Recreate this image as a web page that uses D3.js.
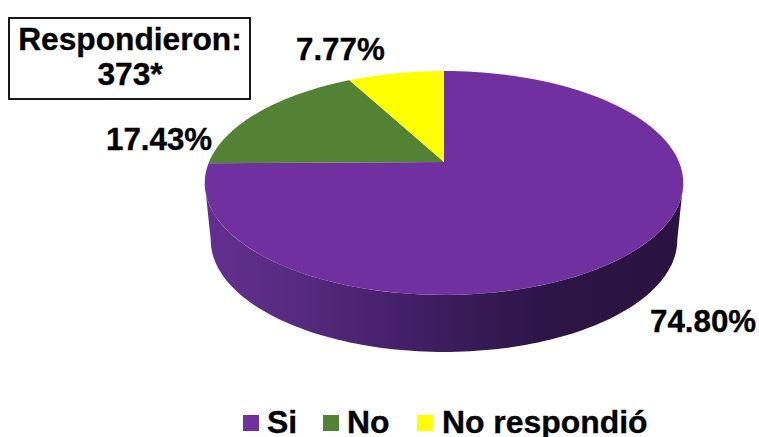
<!DOCTYPE html>
<html><head><meta charset="utf-8">
<script src="https://cdn.jsdelivr.net/npm/d3@7"></script>
<style>html,body{margin:0;padding:0;background:#fff}svg{display:block}
text{font-family:"Liberation Sans",Arial,sans-serif;font-weight:bold;fill:#000;stroke:#000;stroke-width:0.35px}</style>
</head><body><svg id="c" width="759" height="437"></svg>
<script>
const categories = ["Si", "No", "No respondió"];
const values = [74.80, 17.43, 7.77];
const valueLabels = ["74.80%", "17.43%", "7.77%"];
const colors = ["#7030a0", "#548235", "#ffff00"];
const boxLines = ["Respondieron:", "373*"];

const svg = d3.select("#c");
const W = 759, H = 437;
svg.append("rect").attr("width", W).attr("height", H).attr("fill", "#fff");

// perspective projection of the flat disc (u right, v away from viewer)
const cx = 444, apexY = 162, B = 235, A = 108, k = 0.1875;
const project = (a) => {
  const u = Math.sin(a), v = Math.cos(a), d = 1 + k * v;
  return [cx + B * u / d, apexY - A * v / d];
};
const arcPts = (a0, a1, f = project) => d3.range(0, 121).map(i => f(a0 + (a1 - a0) * i / 120));
const line = d3.line();

// side wall
const depth = 57, shrink = 0.975;
const projectBottom = (a) => {
  const p = project(a);
  return [cx + (p[0] - cx) * shrink, p[1] + depth];
};
const defs = svg.append("defs");
const grad = defs.append("linearGradient").attr("id", "wall")
  .attr("gradientUnits", "userSpaceOnUse").attr("x1", 205).attr("x2", 682).attr("y1", 0).attr("y2", 0);
[[0, "#642f90"], [0.2, "#562a7e"], [0.4, "#45206a"], [0.55, "#381a56"], [0.72, "#2c1446"], [1, "#2a1340"]]
  .forEach(s => grad.append("stop").attr("offset", s[0]).attr("stop-color", s[1]));
const tau = 2 * Math.PI;
const wallPts = arcPts(tau * 0.28, tau * 0.72, projectBottom).concat(arcPts(tau * 0.72, tau * 0.28));
svg.append("path").attr("d", line(wallPts) + "Z").attr("fill", "url(#wall)");

// top face
const pie = d3.pie().sort(null).value(d => d)(values);
pie.forEach((s, i) => {
  const pts = [[cx, apexY]].concat(arcPts(s.startAngle, s.endAngle));
  svg.append("path").attr("d", line(pts) + "Z").attr("fill", colors[i]);
});

// value labels
const fs = 31.3;
const labelPos = [[650, 332], [106, 150], [296, 60]];
valueLabels.forEach((t, i) => {
  svg.append("text").attr("x", labelPos[i][0]).attr("y", labelPos[i][1])
    .attr("font-size", fs).text(t);
});

// note box
svg.append("rect").attr("x", 9).attr("y", 18).attr("width", 241).attr("height", 81)
  .attr("fill", "#fff").attr("stroke", "#000").attr("stroke-width", 1.8);
boxLines.forEach((t, i) => {
  svg.append("text").attr("x", 130).attr("y", 50 + i * 35).attr("text-anchor", "middle")
    .attr("font-size", 31.7).text(t);
});

// legend
const legendX = [243, 323, 417];
categories.forEach((c, i) => {
  svg.append("rect").attr("x", legendX[i]).attr("y", 415).attr("width", 16).attr("height", 16).attr("fill", colors[i]);
  svg.append("text").attr("x", legendX[i] + (i === 2 ? 25 : 24)).attr("y", 433)
    .attr("font-size", 31.9).text(c);
});
</script></body></html>
